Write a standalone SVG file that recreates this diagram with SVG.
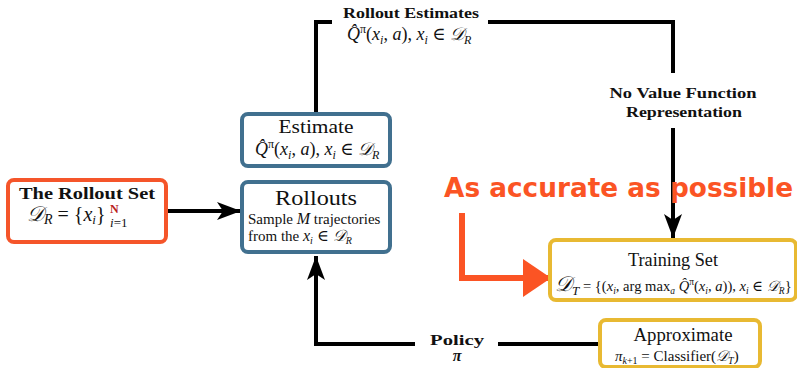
<svg xmlns="http://www.w3.org/2000/svg" width="797" height="368" viewBox="0 0 797 368">
  <style>
    .box { fill: #ffffff; stroke-width: 4; }
    .orange { stroke: #f5552a; }
    .blue { stroke: #41708f; }
    .yellow { stroke: #e8b932; }
    .rm { font-family: "Liberation Serif", "DejaVu Serif", serif; fill: #111; }
    .bf { font-family: "Liberation Serif", "DejaVu Serif", serif; font-weight: bold; fill: #111; }
    .it { font-style: italic; }
    .cal { font-family: "DejaVu Serif", "DejaVu Sans", serif; font-style: italic; }
    .wire { fill: none; stroke: #000; stroke-width: 4; }
    .hot { fill: none; stroke: #fb5424; stroke-width: 6; }
    .big { font-family: "DejaVu Sans", "Liberation Sans", sans-serif; font-weight: bold; fill: #fb5424; }
  </style>
  <defs>
    <marker id="head" markerUnits="userSpaceOnUse" markerWidth="26" markerHeight="20" refX="24" refY="9" orient="auto">
      <path d="M0,0 L24,9 L0,18 L6,9 Z" fill="#000"/>
    </marker>
    <marker id="hothead" markerUnits="userSpaceOnUse" markerWidth="30" markerHeight="40" refX="28" refY="19" orient="auto">
      <path d="M0,0 L28,19 L0,38 Z" fill="#fb5424"/>
    </marker>
  </defs>

  <!-- connectors -->
  <g id="connectors">
    <!-- estimate up, across the top, down into the training set -->
    <path class="wire" d="M316,114 V22 H332"/>
    <path class="wire" d="M488,22 H673 V73"/>
    <path class="wire" d="M673,128 V238" marker-end="url(#head)"/>
    <!-- rollout set into rollouts -->
    <path class="wire" d="M166,211 H241" marker-end="url(#head)"/>
    <!-- policy back into rollouts -->
    <path class="wire" d="M600,344 H498"/>
    <path class="wire" d="M415,344 H316 V256" marker-end="url(#head)"/>
    <!-- accuracy arrow -->
    <path class="hot" d="M462,213 V278 H551" marker-end="url(#hothead)"/>
  </g>

  <!-- edge labels -->
  <g id="label-rollout-estimates">
    <text class="bf" x="411" y="18" font-size="14" text-anchor="middle" textLength="136" lengthAdjust="spacingAndGlyphs">Rollout Estimates</text>
    <text class="rm" x="347" y="40" font-size="18"><tspan class="it">Q̂</tspan><tspan font-size="12" dy="-7">π</tspan><tspan dy="7">(</tspan><tspan class="it">x</tspan><tspan class="it" font-size="12" dy="4">i</tspan><tspan dy="-4">, </tspan><tspan class="it">a</tspan><tspan>), </tspan><tspan class="it">x</tspan><tspan class="it" font-size="12" dy="4">i</tspan><tspan dy="-4"> ∈ </tspan><tspan class="cal">𝒟</tspan><tspan class="it" font-size="12" dy="4">R</tspan></text>
  </g>
  <g id="label-no-value">
    <text class="bf" x="683" y="98" font-size="14" text-anchor="middle" textLength="147" lengthAdjust="spacingAndGlyphs">No Value Function</text>
    <text class="bf" x="684" y="117" font-size="14" text-anchor="middle" textLength="116" lengthAdjust="spacingAndGlyphs">Representation</text>
  </g>
  <g id="label-policy">
    <text class="bf" x="457" y="345" font-size="15" text-anchor="middle" textLength="54" lengthAdjust="spacingAndGlyphs">Policy</text>
    <text class="bf it" x="457" y="361" font-size="16" text-anchor="middle">π</text>
  </g>
  <g id="label-accurate">
    <text class="big" x="444" y="197" font-size="26" textLength="349" lengthAdjust="spacingAndGlyphs">As accurate as possible</text>
  </g>

  <!-- nodes -->
  <g id="rollout-set">
    <rect class="box orange" x="8" y="180" width="158" height="62" rx="6"/>
    <text class="bf" x="87" y="199" font-size="16" text-anchor="middle" textLength="136" lengthAdjust="spacingAndGlyphs">The Rollout Set</text>
    <text class="rm" x="27" y="221" font-size="20"><tspan class="cal" font-size="21">𝒟</tspan><tspan class="it" font-size="14" dy="3">R</tspan><tspan dy="-3"> = {</tspan><tspan class="it">x</tspan><tspan class="it" font-size="13" dy="3">i</tspan><tspan dy="-3">}</tspan></text>
    <text class="bf" x="110" y="213" font-size="12" style="fill:#b8221e">N</text>
    <text class="rm" x="110" y="227" font-size="13"><tspan class="it">i</tspan>=1</text>
  </g>

  <g id="estimate">
    <rect class="box blue" x="242" y="114" width="148" height="52" rx="6"/>
    <text class="rm" x="316" y="133" font-size="18" text-anchor="middle" textLength="75" lengthAdjust="spacingAndGlyphs">Estimate</text>
    <text class="rm" x="255" y="155" font-size="18"><tspan class="it">Q̂</tspan><tspan font-size="12" dy="-7">π</tspan><tspan dy="7">(</tspan><tspan class="it">x</tspan><tspan class="it" font-size="12" dy="4">i</tspan><tspan dy="-4">, </tspan><tspan class="it">a</tspan><tspan>), </tspan><tspan class="it">x</tspan><tspan class="it" font-size="12" dy="4">i</tspan><tspan dy="-4"> ∈ </tspan><tspan class="cal">𝒟</tspan><tspan class="it" font-size="12" dy="4">R</tspan></text>
  </g>

  <g id="rollouts">
    <rect class="box blue" x="242" y="182" width="148" height="70" rx="6"/>
    <text class="rm" x="316" y="205" font-size="21" text-anchor="middle" textLength="82" lengthAdjust="spacingAndGlyphs">Rollouts</text>
    <text class="rm" x="248" y="224" font-size="15">Sample <tspan class="it" font-size="16">M</tspan> trajectories</text>
    <text class="rm" x="248" y="241" font-size="15">from the <tspan class="it" font-size="16">x</tspan><tspan class="it" font-size="10" dy="3">i</tspan><tspan dy="-3" font-size="16"> ∈ </tspan><tspan class="cal" font-size="16">𝒟</tspan><tspan class="it" font-size="10" dy="3">R</tspan></text>
  </g>

  <g id="training-set">
    <rect class="box yellow" x="550" y="240" width="246" height="60" rx="6"/>
    <text class="rm" x="673" y="266" font-size="18" text-anchor="middle" textLength="90" lengthAdjust="spacingAndGlyphs">Training Set</text>
    <text class="rm" x="555" y="291" font-size="14.6"><tspan class="cal" font-size="21">𝒟</tspan><tspan class="it" font-size="13" dy="4">T</tspan><tspan dy="-4"> = {(</tspan><tspan class="it">x</tspan><tspan class="it" font-size="9.5" dy="3">i</tspan><tspan dy="-3">, arg max</tspan><tspan class="it" font-size="9.5" dy="3">a</tspan><tspan dy="-3"> </tspan><tspan class="it">Q̂</tspan><tspan font-size="9.5" dy="-6">π</tspan><tspan dy="6">(</tspan><tspan class="it">x</tspan><tspan class="it" font-size="9.5" dy="3">i</tspan><tspan dy="-3">, </tspan><tspan class="it">a</tspan><tspan>)), </tspan><tspan class="it">x</tspan><tspan class="it" font-size="9.5" dy="3">i</tspan><tspan dy="-3"> ∈ </tspan><tspan class="cal">𝒟</tspan><tspan class="it" font-size="9.5" dy="3">R</tspan><tspan dy="-3">}</tspan></text>
  </g>

  <g id="approximate">
    <rect class="box yellow" x="600" y="320" width="160" height="47" rx="6"/>
    <text class="rm" x="683" y="341" font-size="18" text-anchor="middle" textLength="99" lengthAdjust="spacingAndGlyphs">Approximate</text>
    <text class="rm" x="615" y="361" font-size="15"><tspan class="it">π</tspan><tspan class="it" font-size="10" dy="3">k</tspan><tspan font-size="10">+1</tspan><tspan dy="-3"> = Classifier(</tspan><tspan class="cal">𝒟</tspan><tspan class="it" font-size="10" dy="3">T</tspan><tspan dy="-3">)</tspan></text>
  </g>
</svg>
